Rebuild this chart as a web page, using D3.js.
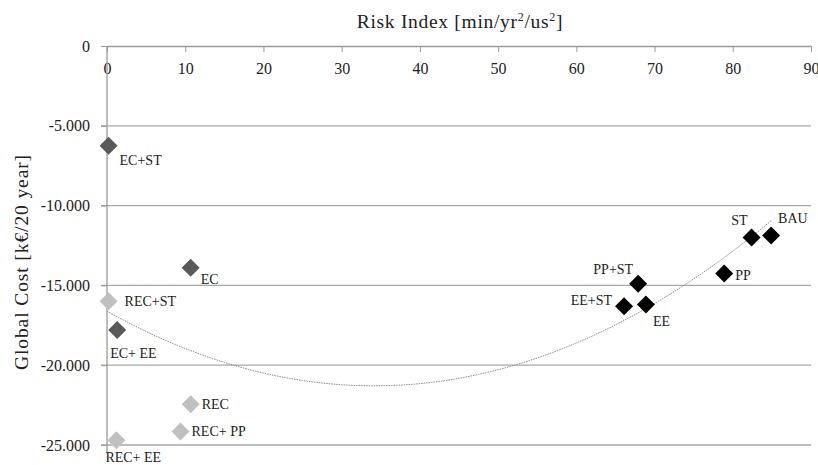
<!DOCTYPE html>
<html><head><meta charset="utf-8">
<script src="https://cdn.jsdelivr.net/npm/d3@7"></script>
<style>
body{margin:0;background:#fff;}
text{font-family:"Liberation Serif","Times New Roman",serif;fill:#222;}
</style></head>
<body><svg id="c" width="818" height="465"></svg>
<script>
// ---- data ----
const labels = ["EC+ST","EC","EC+ EE","REC+ST","REC","REC+ PP","REC+ EE","PP+ST","EE+ST","EE","PP","ST","BAU"];
const riskIndex = [0.2, 10.7, 1.3, 0.2, 10.7, 9.4, 1.2, 67.9, 66.1, 68.9, 78.9, 82.4, 84.9];
const globalCost = [-6250, -13900, -17800, -16000, -22450, -24150, -24700, -14900, -16300, -16200, -14250, -12000, -11880];
const groups = ["EC","EC","EC","REC","REC","REC","REC","B","B","B","B","B","B"];
const xTicks = [0,10,20,30,40,50,60,70,80,90];
const yTicks = [0,-5000,-10000,-15000,-20000,-25000];
const yTickLabels = ["0","-5.000","-10.000","-15.000","-20.000","-25.000"];
// label placement: [dx, dy, anchor]
const labelPos = [[11,19,"start"],[10,16,"start"],[-7,28,"start"],[16,5,"start"],[11,5,"start"],[11,5,"start"],[-11,22,"start"],[-5,-10,"end"],[-12,-1,"end"],[7,21,"start"],[11,7,"start"],[-4,-13,"end"],[7,-13,"start"]];
const colors = {EC:"#595959", REC:"#c0c0c0", B:"#000000"};

const svg = d3.select("#c");
const x = d3.scaleLinear().domain([0,90]).range([107,811]);
const y = d3.scaleLinear().domain([0,-25000]).range([46,445]);

// gridlines
svg.append("g").selectAll("line").data(yTicks.filter(d=>d!==0)).join("line")
  .attr("x1",101).attr("x2",811).attr("y1",d=>y(d)).attr("y2",d=>y(d))
  .attr("stroke","#a8a8a8").attr("stroke-width",1.3);

// x axis (top)
const xAxis = svg.append("g").attr("transform",`translate(0,${y(0)})`)
  .call(d3.axisBottom(x).tickValues(xTicks).tickSize(6).tickPadding(11).tickSizeOuter(0));
xAxis.select(".domain").attr("stroke","#9a9a9a").attr("stroke-width",1.3);
xAxis.selectAll(".tick line").attr("stroke","#9a9a9a");
xAxis.selectAll("text").attr("font-size",16).attr("fill","#222").style("font-family","Liberation Serif, serif");

// y axis
const yAxis = svg.append("g").attr("transform",`translate(${x(0)},0)`)
  .call(d3.axisLeft(y).tickValues(yTicks).tickFormat((d,i)=>yTickLabels[i]).tickSize(6).tickPadding(11).tickSizeOuter(0));
yAxis.select(".domain").attr("stroke","#9a9a9a").attr("stroke-width",1.3);
yAxis.selectAll(".tick line").attr("stroke","#9a9a9a");
yAxis.selectAll("text").attr("font-size",16).attr("fill","#222").style("font-family","Liberation Serif, serif");
yAxis.select(".domain").attr("d",`M0,${y(0)}V${y(-25500)}`);

// quadratic least-squares trendline
function polyfit2(xs, ys){
  let S=[0,0,0,0,0], T=[0,0,0];
  xs.forEach((xv,i)=>{ let p=1; for(let k=0;k<5;k++){S[k]+=p; if(k<3)T[k]+=p*ys[i]; p*=xv;} });
  const A=[[S[0],S[1],S[2],T[0]],[S[1],S[2],S[3],T[1]],[S[2],S[3],S[4],T[2]]];
  for(let i=0;i<3;i++){ for(let j=i+1;j<3;j++){ const f=A[j][i]/A[i][i]; for(let k=i;k<4;k++)A[j][k]-=f*A[i][k]; } }
  const c=[0,0,0];
  for(let i=2;i>=0;i--){ let s=A[i][3]; for(let k=i+1;k<3;k++)s-=A[i][k]*c[k]; c[i]=s/A[i][i]; }
  return c;
}
const coef = polyfit2(riskIndex, globalCost);
const xs = d3.range(0, 85.01, 0.5);
const trend = xs.map(v=>[v, coef[0]+coef[1]*v+coef[2]*v*v]);
svg.append("path").datum(trend)
  .attr("d", d3.line().x(d=>x(d[0])).y(d=>y(d[1])))
  .attr("fill","none").attr("stroke","#8a8a8a").attr("stroke-width",1).attr("stroke-dasharray","1.5,1");

// points
const pts = riskIndex.map((v,i)=>({x:v,y:globalCost[i],g:groups[i],l:labels[i],p:labelPos[i]}));
svg.append("g").selectAll("path").data(pts).join("path")
  .attr("d",d=>{const cx=x(d.x), cy=y(d.y), r=9; return `M${cx},${cy-r}L${cx+r},${cy}L${cx},${cy+r}L${cx-r},${cy}Z`;})
  .attr("fill",d=>colors[d.g]);

svg.append("g").selectAll("text").data(pts).join("text")
  .attr("x",d=>x(d.x)+d.p[0]).attr("y",d=>y(d.y)+d.p[1])
  .attr("text-anchor",d=>d.p[2]).attr("font-size",14).text(d=>d.l);

// titles
const t = svg.append("text").attr("x",460).attr("y",28).attr("text-anchor","middle").attr("font-size",19.5).attr("letter-spacing",0.7);
t.append("tspan").text("Risk Index [min/yr");
t.append("tspan").attr("font-size",12).attr("dy",-7).text("2");
t.append("tspan").attr("dy",7).text("/us");
t.append("tspan").attr("font-size",12).attr("dy",-7).text("2");
t.append("tspan").attr("dy",7).text("]");

svg.append("text").attr("transform","translate(28,262) rotate(-90)").attr("text-anchor","middle")
  .attr("font-size",19.5).attr("letter-spacing",0.9).text("Global Cost [k€/20 year]");
</script></body></html>
